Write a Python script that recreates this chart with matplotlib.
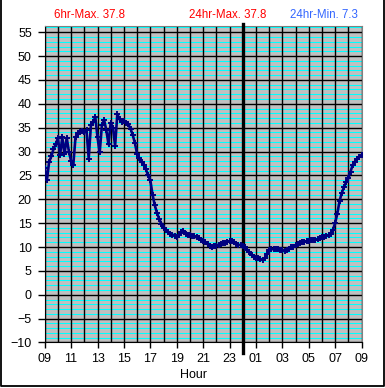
import numpy as np
import matplotlib
matplotlib.use("Agg")
import matplotlib.pyplot as plt
from matplotlib.lines import Line2D

plt.rcParams['font.family'] = ['Liberation Sans', 'DejaVu Sans']

# 10-minute readings from 09:00 to 09:00 next day
minutes = np.arange(0, 1441, 10)
hours = minutes / 60.0
temps = [
    26.5, 24.0, 27.8, 29.0, 30.5, 31.5, 32.8, 29.3, 33.0, 29.5,
    32.9, 30.0, 28.0, 27.2, 33.0, 33.8, 34.0, 34.3, 34.0, 34.5,
    28.5, 35.5, 36.2, 37.2, 33.0, 29.8, 35.5, 36.6, 34.5, 31.5,
    36.0, 35.0, 31.2, 37.8, 36.8, 36.2, 36.5, 35.9, 35.7, 34.8,
    33.5, 31.8, 29.5, 28.6, 27.8, 27.2, 26.3, 25.0, 24.0, 21.0,
    18.8, 17.2, 15.9, 14.9, 14.0, 13.5, 13.1, 12.8, 12.6, 12.4,
    12.2, 12.5, 13.2, 13.4, 12.8, 12.6, 12.5, 12.4, 12.3, 12.0,
    11.8, 11.5, 11.2, 11.0, 10.6, 10.3, 10.1, 10.2, 10.3, 10.5,
    10.6, 10.8, 10.9, 11.1, 11.2, 11.3, 11.0, 10.7, 10.5, 10.4,
    10.3, 10.0, 9.4, 8.9, 8.4, 8.0, 7.7, 7.6, 7.4, 7.3,
    7.6, 8.5, 9.3, 9.5, 9.6, 9.6, 9.5, 9.4, 9.3, 9.2,
    9.3, 9.6, 9.9, 10.1, 10.4, 10.7, 10.9, 11.0, 11.1, 11.2,
    11.3, 11.4, 11.5, 11.5, 11.6, 11.8, 12.0, 12.1, 12.3, 12.5,
    12.8, 13.6, 15.0, 17.0, 19.6, 21.3, 22.5, 23.6, 24.4, 25.8,
    27.2, 27.9, 28.4, 28.9, 29.2,
]
xtick_pos = [0, 2, 4, 6, 8, 10, 12, 14, 16, 18, 20, 22, 24]
xtick_labels = ["09", "11", "13", "15", "17", "19", "21", "23",
                "01", "03", "05", "07", "09"]
ytick_pos = list(range(-10, 56, 5))
midnight = 15
max6 = 37.8
max24 = 37.8
min24 = 7.3

fig = plt.figure(figsize=(3.85, 3.88), dpi=100)
ax = fig.add_axes([0.1161, 0.1173, 0.8229, 0.8157])
ax.set_facecolor('#C0C0C0')
ax.set_xlim(0, 24)
ax.set_ylim(-10, 56.3)

ax.set_xticks(xtick_pos)
ax.set_xticklabels(xtick_labels)
ax.set_yticks(ytick_pos)
ax.tick_params(which='major', direction='out', length=4, width=1,
               labelsize=9, colors='black')
ax.tick_params(axis='y', which='major', length=5, pad=4.3)
ax.tick_params(axis='x', which='major', pad=3.3)

# gridlines: cyan every degree, black every 5 degrees and every hour
for v in range(-10, 57):
    if v % 5:
        ax.axhline(v, color='#00FFFF', lw=0.75, zorder=0.5)
for v in ytick_pos:
    ax.axhline(v, color='black', lw=1.0, zorder=1)
for h in range(0, 25):
    ax.axvline(h, color='black', lw=1.0, zorder=1)

for s in ['top', 'right']:
    ax.spines[s].set_color('#808080')
for s in ['left', 'bottom']:
    ax.spines[s].set_color('black')

ax.axvline(midnight, ymin=-0.034, ymax=1.007, color='black', lw=2.4,
           clip_on=False, zorder=4)

ax.plot(hours, temps, color='#000080', lw=1.9, marker='+', ms=5,
        mew=1.4, zorder=5)

fig.text(194 / 385, 1 - 375 / 388, "Hour", ha='center', va='center',
         fontsize=9)
fig.text(54 / 385, 1 - 15 / 388, f"6hr-Max. {max6}", ha='left',
         va='center', fontsize=8.3, color='#FF0000')
fig.text(228 / 385, 1 - 15 / 388, f"24hr-Max. {max24}", ha='center',
         va='center', fontsize=8.3, color='#FF0000')
fig.text(324 / 385, 1 - 15 / 388, f"24hr-Min. {min24}", ha='center',
         va='center', fontsize=8.3, color='#3366FF')

# outer frame
bx = [0.7 / 385, 0.7 / 385, 383.5 / 385, 383.5 / 385]
by = [1.0, 2 / 388, 2 / 388, 1.0]
fig.add_artist(Line2D(bx, by, transform=fig.transFigure, color='black',
                      lw=1.3))

fig.savefig("out.png", dpi=100)
